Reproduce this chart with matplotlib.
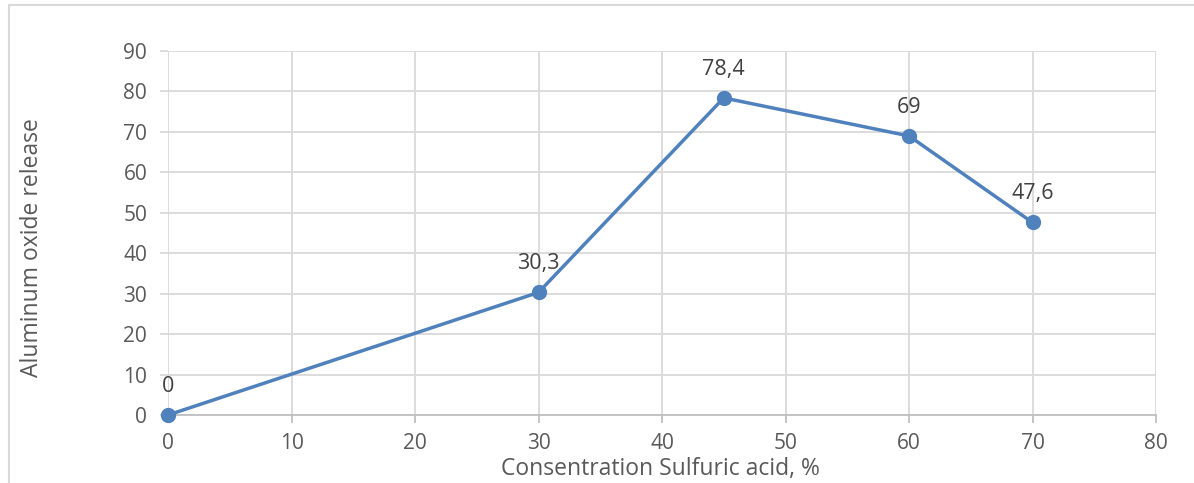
import matplotlib
matplotlib.use("Agg")
import matplotlib.pyplot as plt
from matplotlib.patches import Rectangle

concentration = [0, 30, 45, 60, 70]
release = [0, 30.3, 78.4, 69, 47.6]
point_labels = ["0", "30,3", "78,4", "69", "47,6"]

plt.rcParams['font.family'] = ['Open Sans', 'DejaVu Sans']

fig = plt.figure(figsize=(11.94, 4.83), dpi=100)
ax = fig.add_axes([168/1194, 1-415/483, (1156-168)/1194, (415-51)/483])

# outer chart border (light gray, runs off the right/bottom edge)
fig.patches.append(Rectangle((9/1194, -0.1), 1.2, 1-5/483+0.1, transform=fig.transFigure,
                             fill=False, edgecolor='#d9d9d9', linewidth=1.5))

ax.plot(concentration, release, color='#4f81bd', linewidth=2.5, marker='o',
        markersize=10, zorder=3, clip_on=False)
for x, y, t in zip(concentration, release, point_labels):
    ax.annotate(t, (x, y), xytext=(0, 13), textcoords='offset points',
                ha='center', va='bottom', fontsize=15.5, color='#404040')

ax.set_xlim(0, 80)
ax.set_ylim(0, 90)
ax.set_xticks(range(0, 81, 10))
ax.set_yticks(range(0, 91, 10))
ax.grid(True, color='#d9d9d9', linewidth=1.3)
ax.set_axisbelow(True)
for s in ['top', 'right', 'left']:
    ax.spines[s].set_visible(False)
ax.spines['bottom'].set_color('#bfbfbf')
ax.spines['bottom'].set_linewidth(1.3)
ax.tick_params(axis='x', colors='#bfbfbf', length=6, width=1.3, labelcolor='#595959',
               labelsize=15, pad=7)
ax.tick_params(axis='y', colors='#d9d9d9', length=6, width=1.3, labelcolor='#595959',
               labelsize=15, pad=9)

fig.text(660/1194, 1-469/483, 'Consentration Sulfuric acid, %', ha='center', va='center',
         fontsize=16.5, color='#595959')
fig.text(32/1194, 1-248/483, 'Aluminum oxide release', ha='center', va='center',
         rotation=90, fontsize=16.5, color='#595959')

fig.savefig('out.png', dpi=100)
